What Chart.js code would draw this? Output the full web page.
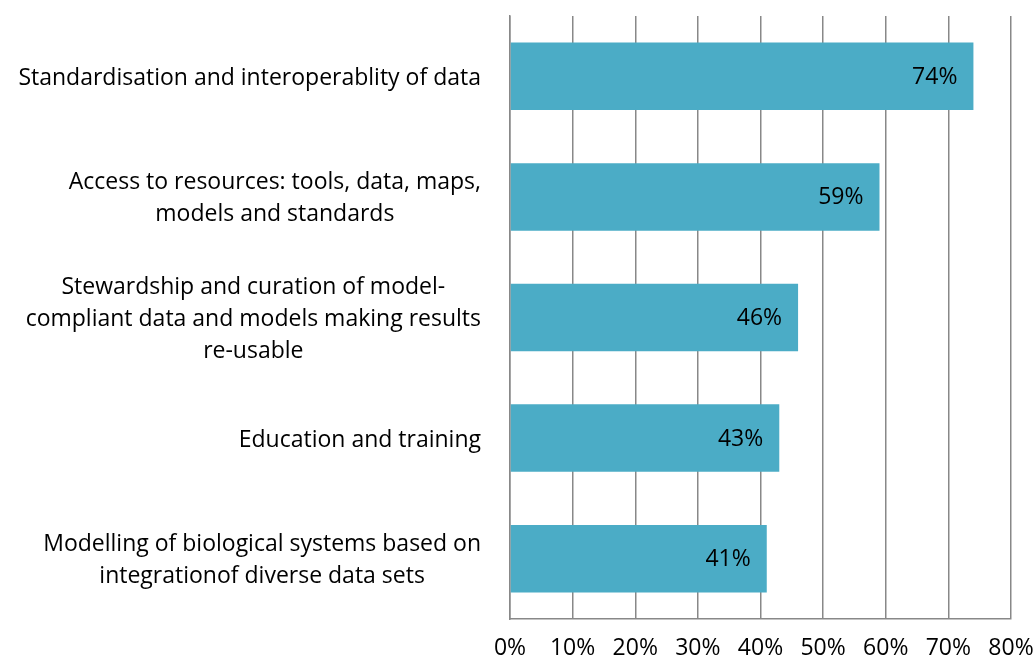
<!DOCTYPE html>
<html>
<head>
<meta charset="utf-8">
<script src="https://cdn.jsdelivr.net/npm/chart.js@4"></script>
<style>
  html, body { margin: 0; padding: 0; background: #fff; }
  #wrap { width: 1035px; height: 663px; }
</style>
</head>
<body>
<div id="wrap"><canvas id="container" width="1035" height="663"></canvas></div>
<script>
"use strict";

const categories = [
    ["Standardisation and interoperablity of data"],
    ["Access to resources: tools, data, maps,", "models and standards"],
    ["Stewardship and curation of model-", "compliant data and models making results", "re-usable"],
    ["Education and training"],
    ["Modelling of biological systems based on", "integrationof diverse data sets"]
];
const values = [74, 59, 46, 43, 41];
const xTicks = [0, 10, 20, 30, 40, 50, 60, 70, 80];

const FONT = "'Open Sans', Lato, sans-serif";
const FSIZE = 23;

// category labels: block right aligned, lines centred inside the block
const catLabels = {
    id: "catLabels",
    afterDraw(chart) {
        const ctx = chart.ctx, ys = chart.scales.y;
        ctx.save();
        ctx.font = FSIZE + "px " + FONT;
        ctx.fillStyle = "#000";
        ctx.textAlign = "center";
        ctx.textBaseline = "middle";
        const lh = 32;
        categories.forEach((lines, i) => {
            const y = ys.getPixelForTick(i) + 2;
            var w = 0;
            lines.forEach(l => { w = Math.max(w, ctx.measureText(l).width); });
            const right = chart.chartArea.left - 29;
            const cx = right - w / 2;
            const y0 = y - (lines.length - 1) * lh / 2;
            lines.forEach((l, k) => ctx.fillText(l, cx, y0 + k * lh));
        });
        ctx.restore();
    }
};

const valLabels = {
    id: "valLabels",
    afterDatasetsDraw(chart) {
        const ctx = chart.ctx;
        const meta = chart.getDatasetMeta(0);
        ctx.save();
        ctx.font = FSIZE + "px " + FONT;
        ctx.fillStyle = "#000";
        ctx.textAlign = "right";
        ctx.textBaseline = "middle";
        meta.data.forEach((bar, i) => {
            ctx.fillText(values[i] + "%", bar.x - 16, bar.y + 1);
        });
        ctx.restore();
    }
};

var ctx = document.getElementById("container").getContext("2d");
var dataChart = new Chart(ctx, {
    type: "bar",
    data: {
        labels: categories,
        datasets: [{
            data: values,
            backgroundColor: "#4BACC6",
            borderWidth: 0,
            barPercentage: 0.56,
            categoryPercentage: 1
        }]
    },
    options: {
        indexAxis: "y",
        responsive: false,
        animation: false,
        layout: { padding: { top: 16, right: 24, left: 0, bottom: 0 } },
        plugins: {
            legend: { display: false },
            tooltip: { enabled: false }
        },
        scales: {
            x: {
                min: 0,
                max: 80,
                afterBuildTicks(scale) {
                    scale.ticks = xTicks.map(v => ({ value: v }));
                },
                afterFit(scale) {
                    scale.height = 44;
                    scale.paddingRight = 0;
                    scale.paddingLeft = 0;
                },
                grid: {
                    color: "#888888",
                    lineWidth: 1.5,
                    drawTicks: false
                },
                border: { color: "#888888", width: 1.5 },
                ticks: {
                    padding: 16,
                    color: "#000",
                    font: { family: FONT, size: FSIZE },
                    callback: v => v + "%"
                }
            },
            y: {
                afterFit(scale) { scale.width = 510; },
                grid: { display: false, drawTicks: false },
                border: { color: "#888888", width: 1.5 },
                ticks: { display: false }
            }
        }
    },
    plugins: [catLabels, valLabels]
});
</script>
</body>
</html>
